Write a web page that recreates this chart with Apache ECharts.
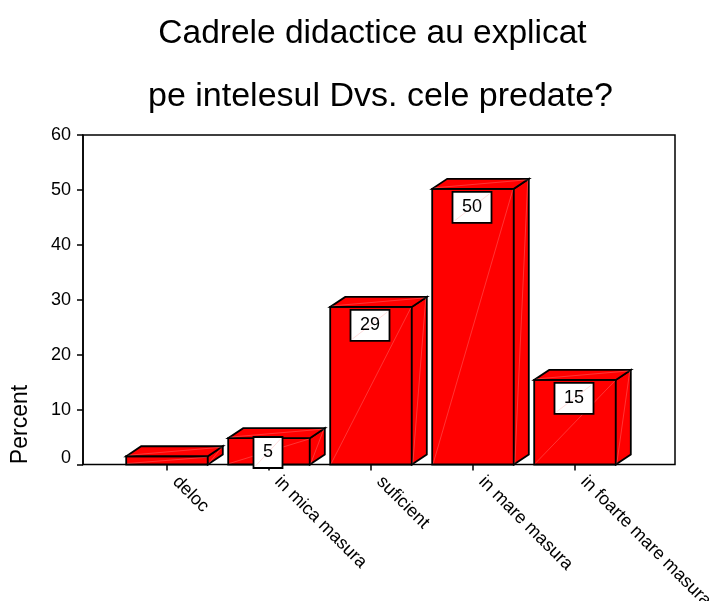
<!DOCTYPE html>
<html>
<head>
<meta charset="utf-8">
<style>
html, body { margin: 0; padding: 0; background: #fff; overflow: hidden; }
#chart { width: 709px; height: 601px; }
</style>
<script src="https://cdn.jsdelivr.net/npm/echarts@6/dist/echarts.min.js"></script>
</head>
<body>
<div id="chart"></div>
<script>
"use strict";

var categories = ['deloc', 'in mica masura', 'suficient', 'in mare masura', 'in foarte mare masura'];
var percent = [1.5, 4.8, 28.7, 50.2, 15.4];
var barLabels = ['', '5', '29', '50', '15'];
var yTicks = [0, 60, 10];

var FONT = '"Liberation Sans", Arial, sans-serif';
var DEPTH_X = 15, DEPTH_Y = 10;
var streak = 'rgba(255, 190, 190, 0.55)';

function poly(points, fill) {
	return {
		type: 'polygon',
		shape: { points: points },
		style: { fill: fill, stroke: '#000', lineWidth: 1.8, lineJoin: 'miter' }
	};
}

function line(p1, p2, color) {
	return {
		type: 'line',
		shape: { x1: p1[0], y1: p1[1], x2: p2[0], y2: p2[1] },
		style: { stroke: color, lineWidth: 0.5 }
	};
}

// 3D looking bar, front face comes from the axes, depth is a fixed offset
function renderBar(params, api) {
	var i = api.value(0);
	var top = api.coord([i, api.value(1)]);
	var base = api.coord([i, 0]);
	var half = api.size([1, 0])[0] * 0.8 / 2;
	var l = top[0] - half, r = top[0] + half, t = top[1], b = base[1];
	var children = [
		poly([[l, b], [r, b], [r, t], [l, t]], '#ff0000'),
		poly([[r, b], [r + DEPTH_X, b - DEPTH_Y], [r + DEPTH_X, t - DEPTH_Y], [r, t]], '#ff0000'),
		poly([[l, t], [r, t], [r + DEPTH_X, t - DEPTH_Y], [l + DEPTH_X, t - DEPTH_Y]], '#ff0000'),
		line([l + 1, b - 1], [r - 1, t + 1], streak),
		line([r + 1, b - 1], [r + DEPTH_X - 1, t - DEPTH_Y + 1], streak),
		line([l + 2, t - 1], [r + DEPTH_X - 2, t - DEPTH_Y + 1], streak)
	];
	var text = barLabels[i];
	if (text) {
		var w = text.length > 1 ? 39 : 29, h = 31;
		var cy = Math.min(t + 18.5, b + 3.5 - h / 2);
		var cx = top[0] - 1;
		children.push({
			type: 'rect',
			shape: { x: cx - w / 2, y: cy - h / 2, width: w, height: h },
			style: { fill: '#fff', stroke: '#000', lineWidth: 1.8 }
		});
		children.push(line([cx - w / 2 + 2, cy + h / 2 - 2], [cx + w / 2 - 2, cy - h / 2 + 2], 'rgba(255, 170, 170, 0.8)'));
		children.push({
			type: 'text',
			style: {
				text: text, x: cx, y: cy, align: 'center', verticalAlign: 'middle',
				fill: '#000', font: '18px ' + FONT
			}
		});
	}
	return { type: 'group', children: children };
}

var chart = echarts.init(document.getElementById('chart'));
var option = {
	backgroundColor: '#fff',
	animation: false,
	title: [{
		text: 'Cadrele didactice au explicat',
		left: 367.5, top: 12, textAlign: 'center',
		textStyle: { fontFamily: FONT, fontSize: 33.5, fontWeight: 'normal', color: '#000' }
	}, {
		text: 'pe intelesul Dvs. cele predate?',
		left: 375.5, top: 75, textAlign: 'center',
		textStyle: { fontFamily: FONT, fontSize: 34, fontWeight: 'normal', color: '#000' }
	}],
	grid: [
		{ left: 83, top: 135, width: 592, height: 329.5, outerBoundsMode: 'none', show: true, borderColor: '#000', borderWidth: 1.5, backgroundColor: 'transparent' },
		{ left: 116, top: 135, width: 510, height: 329.5, outerBoundsMode: 'none' }
	],
	xAxis: [{
		gridIndex: 0, type: 'value', show: false
	}, {
		gridIndex: 1,
		type: 'category',
		data: categories,
		boundaryGap: true,
		axisLine: { show: false },
		axisTick: { show: true, alignWithLabel: true, length: 6, lineStyle: { color: '#000', width: 1.5 } },
		axisLabel: {
			interval: 0, rotate: -45, margin: 23, hideOverlap: false, verticalAlign: 'bottom', lineHeight: 24,
			fontFamily: FONT, fontSize: 18, color: '#000'
		}
	}],
	yAxis: [{
		gridIndex: 0,
		type: 'value',
		min: yTicks[0], max: yTicks[1], interval: yTicks[2],
		splitLine: { show: false },
		axisLine: { show: true, lineStyle: { color: '#000', width: 1.5 } },
		axisTick: { show: true, length: 6, lineStyle: { color: '#000', width: 1.5 } },
		axisLabel: {
			margin: 12, fontFamily: FONT, fontSize: 18, color: '#000', lineHeight: 12,
			verticalAlignMinLabel: 'bottom'
		}
	}, {
		gridIndex: 1,
		type: 'value',
		min: yTicks[0], max: yTicks[1], interval: yTicks[2],
		show: false
	}],
	graphic: [{
		type: 'text',
		x: 21, y: 424.5,
		rotation: Math.PI / 2,
		style: {
			text: 'Percent', align: 'center', verticalAlign: 'middle',
			fill: '#000', font: '23px ' + FONT
		}
	}],
	series: [{
		type: 'custom',
		xAxisIndex: 1,
		yAxisIndex: 1,
		clip: false,
		renderItem: renderBar,
		encode: { x: 0, y: 1 },
		data: percent.map(function (v, i) { return [i, v]; })
	}]
};
chart.setOption(option);
</script>
</body>
</html>
